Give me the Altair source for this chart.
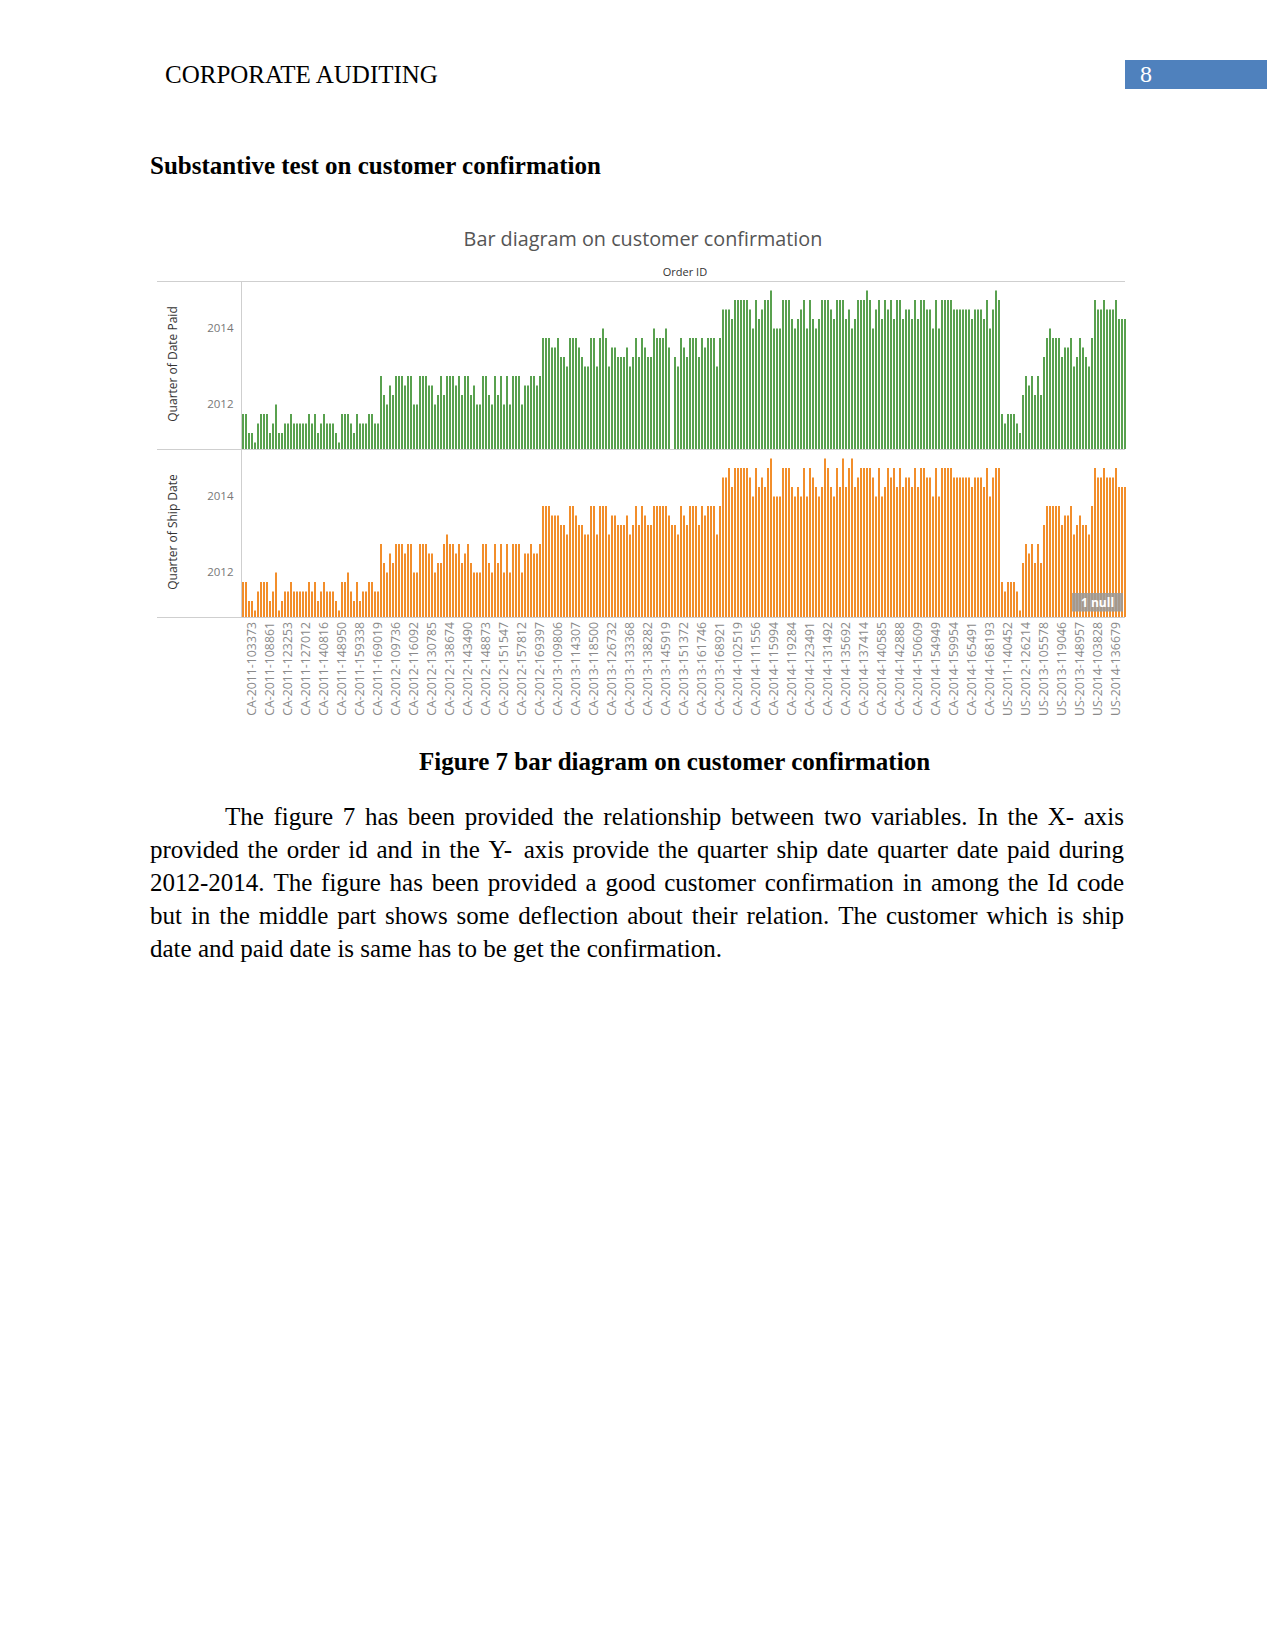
import altair as alt
import pandas as pd

# ---------------- data ----------------
# Quarter codes: 1 = 2011 Q1, 2 = 2011 Q2, ... 17 = 2015 Q1 ; None = null
ORDER_LABELS = [
    "CA-2011-103373", "CA-2011-108861", "CA-2011-123253", "CA-2011-127012", "CA-2011-140816",
    "CA-2011-148950", "CA-2011-159338", "CA-2011-169019", "CA-2012-109736", "CA-2012-116092",
    "CA-2012-130785", "CA-2012-138674", "CA-2012-143490", "CA-2012-148873", "CA-2012-151547",
    "CA-2012-157812", "CA-2012-169397", "CA-2013-109806", "CA-2013-114307", "CA-2013-118500",
    "CA-2013-126732", "CA-2013-133368", "CA-2013-138282", "CA-2013-145919", "CA-2013-151372",
    "CA-2013-161746", "CA-2013-168921", "CA-2014-102519", "CA-2014-111556", "CA-2014-115994",
    "CA-2014-119284", "CA-2014-123491", "CA-2014-131492", "CA-2014-135692", "CA-2014-137414",
    "CA-2014-140585", "CA-2014-142888", "CA-2014-150609", "CA-2014-154949", "CA-2014-159954",
    "CA-2014-165491", "CA-2014-168193", "US-2011-140452", "US-2012-126214", "US-2013-105578",
    "US-2013-119046", "US-2013-148957", "US-2014-103828", "US-2014-136679",
]
N_ORDERS = 295
LABEL_FIRST = 3
LABEL_STEP = 6

PAID_Q = [
    4, 4, 2, 2, 1, 3, 4, 4, 4, 2,
    3, 5, 2, 2, 3, 3, 4, 3, 3, 3,
    3, 3, 4, 3, 4, 2, 3, 4, 3, 3,
    3, 2, 1, 4, 4, 4, 3, 2, 4, 3,
    3, 3, 4, 4, 3, 3, 8, 6, 5, 7,
    6, 8, 8, 8, 7, 8, 8, 5, 5, 8,
    8, 8, 7, 7, 5, 6, 8, 6, 8, 8,
    8, 7, 8, 6, 8, 8, 6, 7, 5, 5,
    8, 8, 6, 5, 8, 6, 8, 5, 8, 5,
    8, 8, 8, 5, 7, 7, 8, 8, 7, 8,
    12, 12, 12, 11, 11, 12, 10, 10, 9, 12,
    12, 12, 11, 10, 9, 9, 12, 12, 9, 12,
    13, 12, 9, 11, 11, 10, 10, 10, 11, 9,
    10, 12, 10, 12, 11, 10, 10, 13, 12, 12,
    12, 13, 11, None, 10, 9, 12, 11, 10, 12,
    12, 12, 10, 12, 11, 12, 12, 12, 9, 12,
    15, 15, 15, 14, 16, 16, 16, 16, 16, 15,
    13, 16, 14, 15, 16, 16, 17, 13, 13, 13,
    16, 16, 16, 14, 13, 14, 15, 16, 13, 16,
    14, 13, 14, 16, 16, 16, 15, 14, 16, 16,
    16, 14, 15, 13, 14, 16, 16, 16, 17, 16,
    13, 15, 16, 14, 16, 15, 16, 14, 16, 16,
    14, 15, 15, 14, 16, 14, 16, 16, 15, 15,
    13, 16, 13, 16, 16, 16, 16, 15, 15, 15,
    15, 15, 15, 14, 15, 15, 15, 14, 16, 13,
    15, 17, 16, 4, 3, 4, 4, 4, 3, 2,
    6, 8, 7, 8, 6, 8, 6, 10, 12, 13,
    12, 12, 12, 10, 11, 11, 12, 9, 10, 12,
    11, 10, 9, 12, 16, 15, 15, 16, 15, 15,
    15, 16, 14, 14, 14,
]

SHIP_Q = [
    4, 4, 2, 2, 1, 3, 4, 4, 4, 2,
    3, 5, 1, 2, 3, 3, 4, 3, 3, 3,
    3, 3, 4, 3, 4, 2, 3, 4, 3, 3,
    3, 2, 1, 4, 4, 5, 3, 2, 4, 2,
    3, 3, 4, 4, 3, 3, 8, 6, 5, 7,
    6, 8, 8, 8, 7, 8, 8, 5, 5, 8,
    8, 8, 7, 7, 5, 6, 6, 8, 9, 8,
    8, 7, 8, 6, 7, 8, 6, 5, 5, 5,
    8, 8, 6, 5, 8, 6, 8, 5, 8, 5,
    8, 8, 8, 5, 7, 7, 8, 7, 7, 8,
    12, 12, 12, 11, 11, 11, 10, 10, 9, 12,
    12, 11, 10, 10, 9, 9, 12, 12, 9, 12,
    12, 12, 9, 11, 11, 10, 10, 10, 11, 9,
    10, 12, 10, 12, 11, 10, 10, 12, 12, 12,
    12, 12, 11, 10, 10, 9, 12, 11, 10, 12,
    12, 12, 10, 12, 11, 12, 12, 12, 9, 12,
    15, 15, 16, 14, 16, 16, 16, 16, 16, 15,
    13, 16, 14, 15, 14, 16, 17, 13, 13, 13,
    16, 16, 16, 14, 13, 14, 13, 16, 13, 16,
    15, 14, 13, 14, 17, 16, 14, 13, 16, 14,
    17, 14, 16, 17, 14, 15, 16, 16, 16, 16,
    15, 13, 16, 13, 14, 16, 15, 16, 14, 16,
    14, 15, 15, 14, 16, 14, 16, 16, 15, 15,
    13, 16, 13, 16, 16, 16, 16, 15, 15, 15,
    15, 15, 15, 14, 15, 15, 15, 14, 16, 13,
    15, 16, 16, 4, 3, 4, 4, 4, 3, 1,
    6, 8, 7, 8, 6, 8, 6, 10, 12, 12,
    12, 12, 12, 10, 11, 11, 12, 9, 10, 11,
    10, 10, 9, 12, 16, 15, 15, 16, 15, 15,
    15, 16, 14, 14, 14,
]

Y_TICKS = [2012, 2014]

HEADER = "CORPORATE AUDITING"
PAGE_NO = "8"
HEADING = "Substantive test on customer confirmation"
CHART_TITLE = "Bar diagram on customer confirmation"
X_TITLE = "Order ID"
Y_TITLE_TOP = "Quarter of Date Paid"
Y_TITLE_BOT = "Quarter of Ship Date"
NULL_BADGE = "1 null"
CAPTION = "Figure 7 bar diagram on customer confirmation"
PARAGRAPH = [
    "The figure 7 has been provided the relationship between two variables. In the X- axis",
    "provided the order id and in the Y- axis provide the quarter ship date quarter date paid during",
    "2012-2014. The figure has been provided a good customer confirmation in among the Id code",
    "but in the middle part shows some deflection about their relation. The customer which is ship",
    "date and paid date is same has to be get the confirmation.",
]

# ---------------- layout / style ----------------
W, H = 1259, 1000
SERIF = "Liberation Serif"
SANS = "Open Sans"
GREEN = "#59A14F"
ORANGE = "#F28E2B"
GRID = "#cfcfcf"

X0, X1 = 233.5, 1118.5          # 295 bands of exactly 3 px
TOP_RANGE = [441, 273]
BOT_RANGE = [609, 441]
Y_DOMAIN = [2010.83, 2015.25]


def qyear(q):
    if q is None:
        return None
    return 2011 + (q - 1) / 4.0


assert len(PAID_Q) == N_ORDERS and len(SHIP_Q) == N_ORDERS

idx = list(range(N_ORDERS))
df = pd.DataFrame({
    "i": idx,
    "paid": [qyear(q) for q in PAID_Q],
    "ship": [qyear(q) for q in SHIP_Q],
})
lab_df = pd.DataFrame({
    "i": [LABEL_FIRST + LABEL_STEP * k for k in range(len(ORDER_LABELS))],
    "label": ORDER_LABELS,
})
tick_df = pd.DataFrame({"v": Y_TICKS, "t": [str(v) for v in Y_TICKS]})

xscale = alt.Scale(domain=idx, range=[X0, X1], paddingInner=1 / 3, paddingOuter=1 / 6)


def yscale(rng):
    return alt.Scale(domain=Y_DOMAIN, range=rng, zero=False, nice=False)


one = pd.DataFrame({"a": [0]})


def text(t, x, y, size, font=SANS, color="black", weight="normal", align="left",
         baseline="alphabetic", angle=0):
    kw = dict(font=font, fontSize=size, color=color, fontWeight=weight, align=align,
              baseline=baseline)
    if angle:
        kw["angle"] = angle
    return alt.Chart(pd.DataFrame({"t": [t]})).mark_text(**kw).encode(
        text="t:N", x=alt.value(x), y=alt.value(y))


def hrule(y, xa, xb, color=GRID):
    return alt.Chart(one).mark_rule(color=color, strokeWidth=1).encode(
        x=alt.value(xa), x2=alt.value(xb), y=alt.value(y))


def vrule(x, ya, yb, color=GRID):
    return alt.Chart(one).mark_rule(color=color, strokeWidth=1).encode(
        x=alt.value(x), y=alt.value(ya), y2=alt.value(yb))


def rect(xa, xb, ya, yb, color, opacity=1.0):
    return alt.Chart(one).mark_rect(color=color, opacity=opacity).encode(
        x=alt.value(xa), x2=alt.value(xb), y=alt.value(ya), y2=alt.value(yb))


# Times New Roman advance widths (per 1000 em) for justified paragraph layout
TNR = {
    'a': 444, 'b': 500, 'c': 444, 'd': 500, 'e': 444, 'f': 333, 'g': 500, 'h': 500, 'i': 278,
    'j': 278, 'k': 500, 'l': 278, 'm': 778, 'n': 500, 'o': 500, 'p': 500, 'q': 500, 'r': 333,
    's': 389, 't': 278, 'u': 500, 'v': 500, 'w': 722, 'x': 500, 'y': 500, 'z': 444,
    'A': 722, 'B': 667, 'C': 667, 'D': 722, 'E': 611, 'F': 556, 'G': 722, 'H': 722, 'I': 333,
    'J': 389, 'K': 722, 'L': 611, 'M': 889, 'N': 722, 'O': 722, 'P': 556, 'Q': 722, 'R': 667,
    'S': 556, 'T': 611, 'U': 722, 'V': 722, 'W': 944, 'X': 722, 'Y': 722, 'Z': 611,
    '.': 250, ',': 250, '-': 333, ' ': 250,
}
for d in "0123456789":
    TNR[d] = 500


def tw(s, size):
    return sum(TNR.get(c, 500) for c in s) / 1000.0 * size


BODY = 25
PARA_LEFT, PARA_INDENT, PARA_RIGHT = 142, 217, 1116
PARA_BASE, PARA_LEAD = 817, 33.1

words = []
for li, line in enumerate(PARAGRAPH):
    y = PARA_BASE + li * PARA_LEAD
    x_start = PARA_INDENT if li == 0 else PARA_LEFT
    ws = line.split(" ")
    if li == len(PARAGRAPH) - 1:
        words.append({"w": line, "x": x_start, "y": y})
        continue
    total = sum(tw(w, BODY) for w in ws)
    gap = (PARA_RIGHT - x_start - total) / (len(ws) - 1)
    x = x_start
    for w in ws:
        words.append({"w": w, "x": x, "y": y})
        x += tw(w, BODY) + gap
para = alt.Chart(pd.DataFrame(words)).mark_text(
    font=SERIF, fontSize=BODY, color="black", align="left", baseline="alphabetic"
).encode(
    text="w:N",
    x=alt.X("x:Q", scale=None, axis=None),
    y=alt.Y("y:Q", scale=None, axis=None),
)

# ---------------- bar panels ----------------
top_bars = alt.Chart(df).mark_bar(color=GREEN).encode(
    x=alt.X("i:O", scale=xscale, axis=None),
    y=alt.Y("paid:Q", scale=yscale(TOP_RANGE), axis=None),
    y2=alt.datum(Y_DOMAIN[0]),
)
bot_bars = alt.Chart(df).mark_bar(color=ORANGE).encode(
    x=alt.X("i:O", scale=xscale, axis=None),
    y=alt.Y("ship:Q", scale=yscale(BOT_RANGE), axis=None),
    y2=alt.datum(Y_DOMAIN[0]),
)


def ytick_labels(rng):
    return alt.Chart(tick_df).mark_text(
        font=SANS, fontSize=11.5, color="#777777", align="right", baseline="middle"
    ).encode(
        text="t:N", x=alt.value(225.5),
        y=alt.Y("v:Q", scale=yscale(rng), axis=None),
    )


xlabels = alt.Chart(lab_df).mark_text(
    font=SANS, fontSize=12.3, color="#8a8a8a", angle=270, align="right", baseline="middle"
).encode(
    text="label:N",
    x=alt.X("i:O", scale=xscale, axis=None),
    y=alt.value(614),
)

layers = [
    # page header
    rect(1117, 1259, 52, 81, "#4F81BD"),
    text(HEADER, 157, 75.3, BODY, font=SERIF),
    text(PAGE_NO, 1138, 73.5, 24, font=SERIF, color="white", align="center"),
    text(HEADING, 142, 166, BODY, font=SERIF, weight="bold"),
    # chart frame
    text(CHART_TITLE, 635, 238, 19.8, color="#555555", align="center"),
    text(X_TITLE, 677, 268, 11, color="#333333", align="center"),
    hrule(273.5, 149, 1117),
    hrule(441.5, 149, 1117),
    hrule(609.5, 149, 1117),
    vrule(233.5, 273, 609),
    top_bars,
    bot_bars,
    ytick_labels(TOP_RANGE),
    ytick_labels(BOT_RANGE),
    text(Y_TITLE_TOP, 164.5, 356, 12, color="#333333", align="center", baseline="middle", angle=270),
    text(Y_TITLE_BOT, 164.5, 524, 12, color="#333333", align="center", baseline="middle", angle=270),
    xlabels,
    rect(1064, 1115, 585, 603.5, "#9a9a9a", opacity=0.85),
    text(NULL_BADGE, 1089.5, 594.5, 12, color="white", weight="bold", align="center", baseline="middle"),
    # caption and paragraph
    text(CAPTION, 666.5, 762, BODY, font=SERIF, weight="bold", align="center"),
    para,
]

chart = alt.layer(*layers).resolve_scale(
    x="independent", y="independent"
).properties(
    width=W, height=H, padding=0, background="white",
    autosize=alt.AutoSizeParams(type="none"),
).configure_view(stroke=None)

chart.save("out.html", embed_options={"renderer": "svg", "actions": False})
